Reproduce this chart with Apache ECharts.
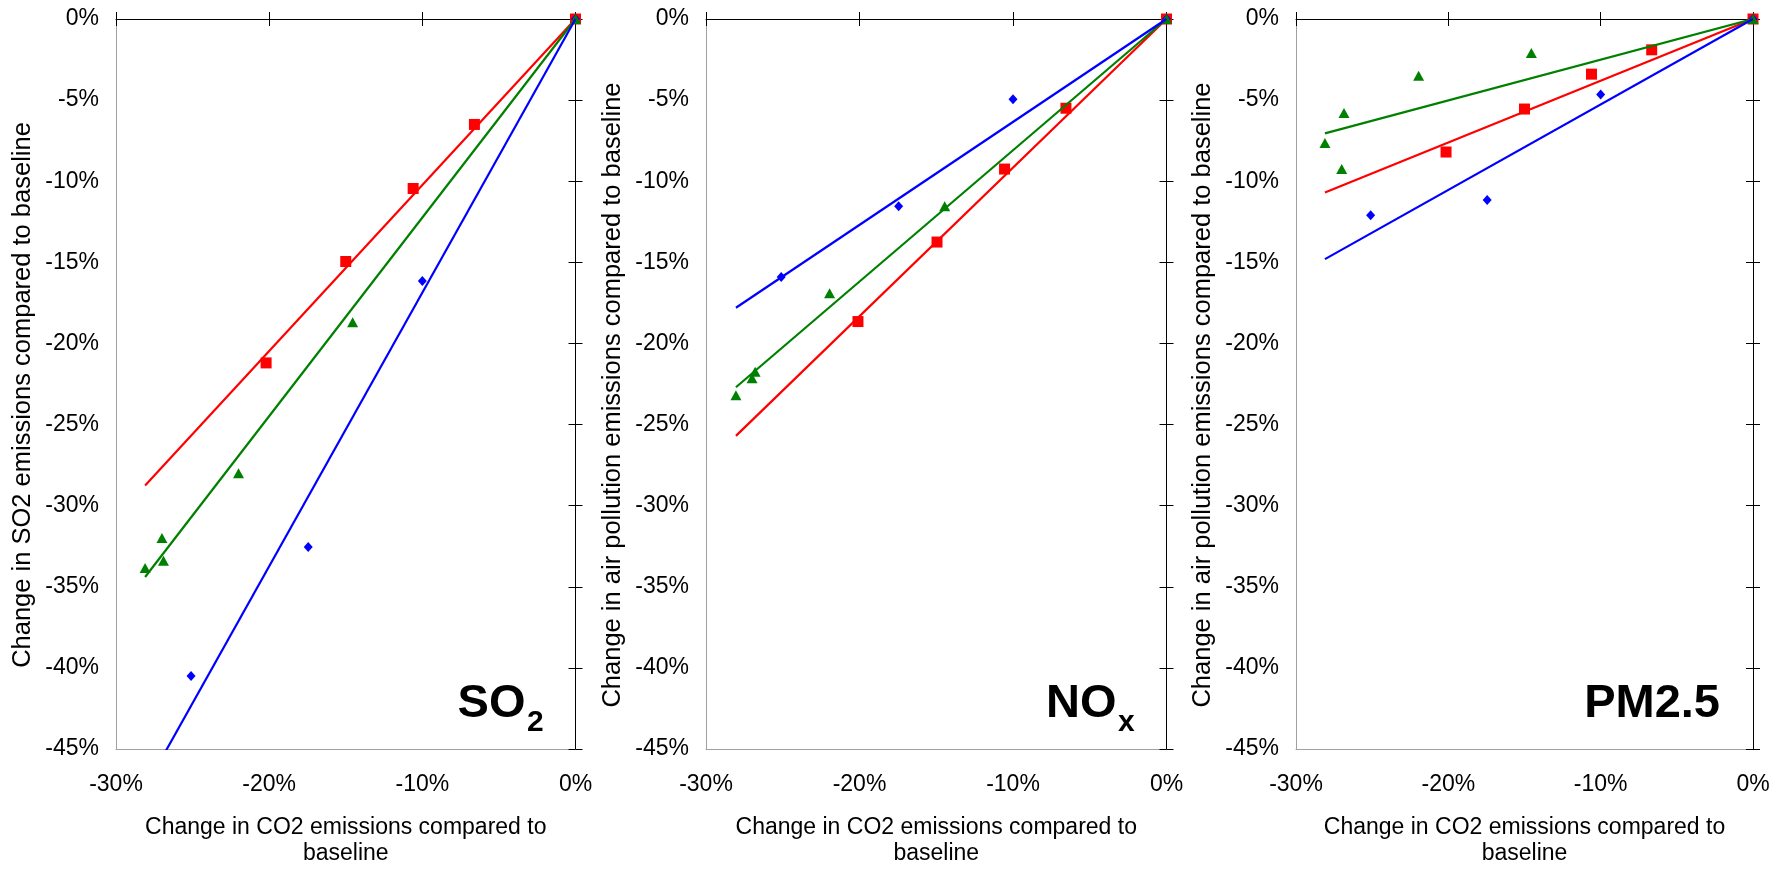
<!DOCTYPE html>
<html>
<head>
<meta charset="utf-8">
<title>Air pollution vs CO2 emission changes</title>
<script src="https://cdn.jsdelivr.net/npm/echarts@6/dist/echarts.min.js"></script>
<style>
  html, body { margin: 0; padding: 0; background: #fff; }
  #chart { width: 1782px; height: 872px; }
</style>
</head>
<body>
<div id="chart"></div>
<script>
// Percent change vs. baseline: [CO2 change, pollutant change]
const so2Red   = [[0, 0], [-6.6, -6.5], [-10.6, -10.45], [-15.0, -14.95], [-20.2, -21.2]];
const so2Green = [[0, 0], [-14.55, -18.7], [-22.0, -28.0], [-27.0, -32.0], [-26.9, -33.4], [-28.1, -33.85]];
const so2Blue  = [[0, 0], [-10.0, -16.15], [-17.45, -32.55], [-25.1, -40.5]];

const noxRed   = [[0, 0], [-6.55, -5.5], [-10.55, -9.25], [-14.95, -13.75], [-20.1, -18.65]];
const noxGreen = [[0, 0], [-14.45, -11.55], [-21.95, -16.9], [-26.8, -21.75], [-27.0, -22.15], [-28.05, -23.2]];
const noxBlue  = [[0, 0], [-10.0, -4.95], [-17.45, -11.55], [-25.1, -15.9]];

const pmRed    = [[0, 0], [-6.65, -1.9], [-10.6, -3.4], [-15.0, -5.55], [-20.15, -8.2]];
const pmGreen  = [[0, 0], [-14.55, -2.1], [-21.95, -3.5], [-26.85, -5.8], [-28.1, -7.65], [-27.0, -9.25]];
const pmBlue   = [[0, 0], [-10.0, -4.65], [-17.45, -11.15], [-25.1, -12.1]];

// Trend lines through the origin: [start point, end point]
const so2Trend = { red: [[-28.1, -28.75], [0, 0]], green: [[-28.1, -34.4], [0, 0]], blue: [[-28.1, -47.4], [0, 0]] };
const noxTrend = { red: [[-28.05, -25.7], [0, 0]], green: [[-28.05, -22.7], [0, 0]], blue: [[-28.05, -17.8], [0, 0]] };
const pmTrend  = { red: [[-28.1, -10.7], [0, 0]], green: [[-28.1, -7.05], [0, 0]], blue: [[-28.1, -14.8], [0, 0]] };

const xRange = { min: -30, max: 0, interval: 10 };
const yRange = { min: -45, max: 0, interval: 5 };

const xTitle = 'Change in CO2 emissions compared to\nbaseline';
const yTitles = [
  'Change in SO2 emissions compared to baseline',
  'Change in air pollution emissions compared to baseline',
  'Change in air pollution emissions compared to baseline'
];

const FONT = '"Liberation Sans", Arial, Helvetica, sans-serif';
const COLORS = { red: '#ff0000', green: '#008000', blue: '#0000ff' };
const GRAY = '#a0a0a0';
const DARK = '#000000';

const grids = [
  { left: 116,  top: 19, width: 459.5, height: 736 },
  { left: 706,  top: 19, width: 460.5, height: 736 },
  { left: 1296, top: 19, width: 457,   height: 736 }
];

const panels = [
  { red: so2Red, green: so2Green, blue: so2Blue, trend: so2Trend },
  { red: noxRed, green: noxGreen, blue: noxBlue, trend: noxTrend },
  { red: pmRed,  green: pmGreen,  blue: pmBlue,  trend: pmTrend }
];

const pct = v => v + '%';

const xAxes = [], yAxes = [], series = [];

panels.forEach((p, i) => {
  // bottom: gray frame line + tick labels + title
  xAxes.push({
    gridIndex: i, type: 'value', position: 'bottom', ...xRange,
    axisLine: { show: true, onZero: false, lineStyle: { color: GRAY, width: 1 } },
    axisTick: { show: false }, splitLine: { show: false },
    axisLabel: { formatter: pct, fontSize: 23, color: DARK, fontFamily: FONT, margin: 24 },
    name: xTitle, nameLocation: 'middle', nameGap: 66,
    nameTextStyle: { fontSize: 23, lineHeight: 26, color: DARK, fontFamily: FONT }
  });
  // top: dark axis line at y = 0 with ticks crossing it
  xAxes.push({
    gridIndex: i, type: 'value', position: 'top', ...xRange,
    axisLine: { show: true, onZero: false, lineStyle: { color: DARK, width: 1 } },
    axisTick: { show: true, inside: false, length: 7, lineStyle: { color: DARK } },
    axisLabel: { show: false }, splitLine: { show: false }
  });
  xAxes.push({
    gridIndex: i, type: 'value', position: 'top', ...xRange,
    axisLine: { show: false, onZero: false },
    axisTick: { show: true, inside: true, length: 7, lineStyle: { color: DARK } },
    axisLabel: { show: false }, splitLine: { show: false }
  });

  // left: gray frame line + tick labels + title
  yAxes.push({
    gridIndex: i, type: 'value', position: 'left', ...yRange,
    axisLine: { show: true, onZero: false, lineStyle: { color: GRAY, width: 1 } },
    axisTick: { show: false }, splitLine: { show: false },
    axisLabel: { formatter: pct, fontSize: 23, color: DARK, fontFamily: FONT, margin: 17 },
    name: yTitles[i], nameLocation: 'middle', nameGap: 80, nameRotate: 90,
    nameTextStyle: { fontSize: 25.5, color: DARK, fontFamily: FONT, padding: [0, 22, 0, 0] }
  });
  // right: dark axis line at x = 0 with ticks crossing it
  yAxes.push({
    gridIndex: i, type: 'value', position: 'right', ...yRange,
    axisLine: { show: true, onZero: false, lineStyle: { color: DARK, width: 1 } },
    axisTick: { show: true, inside: false, length: 7, lineStyle: { color: DARK } },
    axisLabel: { show: false }, splitLine: { show: false }
  });
  yAxes.push({
    gridIndex: i, type: 'value', position: 'right', ...yRange,
    axisLine: { show: false, onZero: false },
    axisTick: { show: true, inside: true, length: 7, lineStyle: { color: DARK } },
    axisLabel: { show: false }, splitLine: { show: false }
  });

  const ax = { xAxisIndex: 3 * i, yAxisIndex: 3 * i };
  series.push(
    { type: 'scatter', ...ax, data: p.red, symbol: 'rect', symbolSize: 11,
      itemStyle: { color: COLORS.red, opacity: 1 } },
    { type: 'scatter', ...ax, data: p.blue, symbol: 'diamond', symbolSize: [9, 10],
      itemStyle: { color: COLORS.blue, opacity: 1 } },
    { type: 'scatter', ...ax, data: p.green, symbol: 'triangle', symbolSize: [11, 10],
      itemStyle: { color: COLORS.green, opacity: 1 } }
  );
  ['red', 'green', 'blue'].forEach(c => {
    series.push({
      type: 'line', ...ax, data: p.trend[c], symbol: 'none', clip: true,
      lineStyle: { color: COLORS[c], width: 2.2 }
    });
  });
});

// Pollutant labels in the lower right of each panel
const labelStyle = (text, size, align) => ({
  text, fontSize: size, fontWeight: 'bold', fontFamily: FONT, fill: DARK,
  align, verticalAlign: 'middle'
});
const graphic = [];
[['SO', '2'], ['NO', 'x']].forEach((lab, i) => {
  const r = grids[i].left + grids[i].width;
  graphic.push({ type: 'text', x: r - 50, y: 704, style: labelStyle(lab[0], 47, 'right') });
  graphic.push({ type: 'text', x: r - 48.5, y: 722.5, style: labelStyle(lab[1], 30, 'left') });
});
{
  const r = grids[2].left + grids[2].width;
  graphic.push({ type: 'text', x: r - 33, y: 704, style: labelStyle('PM2.5', 47, 'right') });
}

const chart = echarts.init(document.getElementById('chart'), null, { renderer: 'canvas' });
chart.setOption({
  animation: false,
  backgroundColor: '#ffffff',
  grid: grids,
  xAxis: xAxes,
  yAxis: yAxes,
  series,
  graphic
});
</script>
</body>
</html>
